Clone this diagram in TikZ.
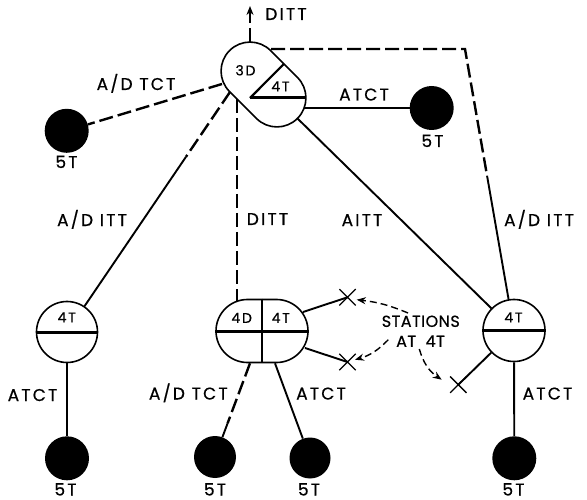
\documentclass[tikz,border=0pt]{standalone}
\usepackage{fontspec}
\setmainfont{Poppins}
\newfontfamily\labfont[LetterSpace=13,FakeBold=0.6]{Poppins}
\newfontfamily\stafont[LetterSpace=3,FakeBold=0.6]{Poppins}
\usetikzlibrary{shapes.misc,arrows.meta,calc}
\begin{document}
\begin{tikzpicture}[x=1pt,y=-1pt,
  lbl/.style={font=\labfont\fontsize{17}{20}\selectfont, inner sep=0pt, text height=12pt, text depth=0pt},
  inlbl/.style={font=\labfont\fontsize{14}{16}\selectfont, inner sep=0pt, text height=9.8pt, text depth=0pt},
  stalbl/.style={font=\stafont\fontsize{16}{19}\selectfont, inner sep=0pt, text height=11.2pt, text depth=0pt},
  station/.style={circle, draw, line width=1.6pt, minimum size=61pt, inner sep=0pt, fill=white},
  sink/.style={circle, fill=black, minimum size=44pt, inner sep=0pt},
  hub/.style={rounded rectangle, draw, line width=1.6pt, inner sep=0pt, fill=white},
  solidln/.style={line width=1.9pt},
  dashln/.style={line width=2.4pt, dash pattern=on 14pt off 5pt},
  divider/.style={line width=3pt},
  xmark/.style={cross out, draw, line width=1.3pt, minimum size=15pt, inner sep=0pt},
  ptr/.style={line width=1.4pt, dash pattern=on 7pt off 4pt, -{Stealth[length=9pt,width=7pt]}}
]
\useasboundingbox[fill=white] (0,0) rectangle (587,500);

% main nodes
\node[hub, rotate=-45, minimum width=96pt, minimum height=58pt] (T) at (263.5,84.5) {};
\node[hub, minimum width=92pt, minimum height=63pt] (C) at (262,331) {};
\node[station] (L) at (67,332) {};
\node[station, minimum size=62pt] (R) at (514,330.5) {};

\node[sink] (B1) at (66.7,130.8) {};
\node[sink] (B2) at (431.7,108) {};
\node[sink] (B3) at (67,458.3) {};
\node[sink, minimum size=42pt] (B4) at (215,457) {};
\node[sink, minimum size=41pt] (B5) at (310,458) {};
\node[sink] (B6) at (514.3,458.3) {};

\node[xmark] (X1) at (347.5,297.3) {};
\node[xmark] (X2) at (347.5,362) {};
\node[xmark] (X3) at (458.3,384.7) {};

% dividers
\coordinate (tn) at (283.9,63.9);
\coordinate (tq) at (250,98);
\coordinate (te) at (305.9,98);
\draw[line width=2.2pt] (tn) -- (tq);
\draw[divider] (tq) -- (te);
\draw[divider] (C.west) -- (C.east);
\draw[line width=2.4pt] (C.north) -- (C.south);
\draw[divider] (L.west) -- (L.east);
\draw[divider] (R.west) -- (R.east);

% ports
\coordinate (pUp) at (250,42);
\coordinate (dTip) at (250,6);
\coordinate (pTop) at (271,49);
\coordinate (corner) at (465,49);
\coordinate (pTCT) at (222,84);
\coordinate (pITT) at (230,92);
\coordinate (pDITT) at (237,99);
\coordinate (qDITT) at (237,301.3);
\coordinate (pATCT) at (304.2,108);
\coordinate (pAITT) at (297.4,118.4);
\coordinate (cX1) at (303,312);
\coordinate (cX2) at (305,348);
\coordinate (pC1) at ([xshift=-12pt]C.south);
\coordinate (pC2) at ([xshift=13pt]C.south);

% connectors
\draw[dashln, -{Stealth[length=9pt,width=7pt]}] (pUp) -- (dTip);
\draw[dashln] (pTop) -- (corner) -- ($(corner)!0.45!(R)$) coordinate (sp3);
\draw[solidln] (sp3) -- (R);
\draw[dashln] (pTCT) -- (B1);
\draw[dashln] (pITT) -- ($(pITT)!0.27!(L)$) coordinate (sp1);
\draw[solidln] (sp1) -- (L);
\draw[dashln] (pDITT) -- (qDITT);
\draw[solidln] (pATCT) -- (B2);
\draw[solidln] (pAITT) -- (R);
\draw[solidln] (L) -- (B3);
\draw[dashln] (pC1) -- ($(pC1)!0.64!(B4)$) coordinate (sp4);
\draw[solidln] (sp4) -- (B4);
\draw[solidln] (pC2) -- (B5);
\draw[solidln] (R) -- (B6);
\draw[solidln] (cX1) -- (X1.center);
\draw[solidln] (cX2) -- (X2.center);
\draw[solidln] (R) -- (X3.center);

% pointer arrows
\coordinate (sA1) at (408,313);
\coordinate (eA1) at (356.7,299.7);
\coordinate (sA2) at (388.3,339.7);
\coordinate (eA2) at (355,359.7);
\coordinate (sA3) at (419.3,349);
\coordinate (eA3) at (441.7,379.7);
\draw[ptr] (sA1) to[bend right=8] (eA1);
\draw[ptr] (sA2) to[bend left=15] (eA2);
\draw[ptr] (sA3) to[bend right=20] (eA3);

% inner labels
\node[inlbl] (l3d) at (245.5,70.5) {3D};
\node[inlbl] (l4tT) at (280.5,86.5) {4T};
\node[inlbl] (l4tL) at (66.7,317.5) {4T};
\node[inlbl] (l4tR) at (513.5,317.5) {4T};
\node[inlbl] (l4dC) at (241.7,318) {4D};
\node[inlbl] (l4tC) at (280.8,318) {4T};

% 5T labels
\node[lbl] (n1) at (66.5,162) {5T};
\node[lbl] (n2) at (432.5,141) {5T};
\node[lbl] (n3) at (65.5,489.5) {5T};
\node[lbl] (n4) at (215,489.5) {5T};
\node[lbl] (n5) at (309,489.5) {5T};
\node[lbl] (n6) at (513.5,489.5) {5T};

% connector labels
\node[lbl] (e1) at (286,14) {DITT};
\node[lbl] (e2) at (136,84) {A/D TCT};
\node[lbl] (e3) at (364,94.5) {ATCT};
\node[lbl] (e4) at (92,220) {A/D ITT};
\node[lbl] (e5) at (267.5,219) {DITT};
\node[lbl] (e6) at (362,220) {AITT};
\node[lbl] (e7) at (539,220) {A/D ITT};
\node[lbl] (e8) at (32.5,395) {ATCT};
\node[lbl] (e9) at (188.3,393.5) {A/D TCT};
\node[lbl] (e10) at (321,393.5) {ATCT};
\node[lbl] (e11) at (547.5,393.5) {ATCT};

\node[stalbl] (s1) at (420.8,321.3) {STATIONS};
\node[stalbl] (s2) at (420.5,341.3) {AT\ \ 4T};
\end{tikzpicture}
\end{document}
